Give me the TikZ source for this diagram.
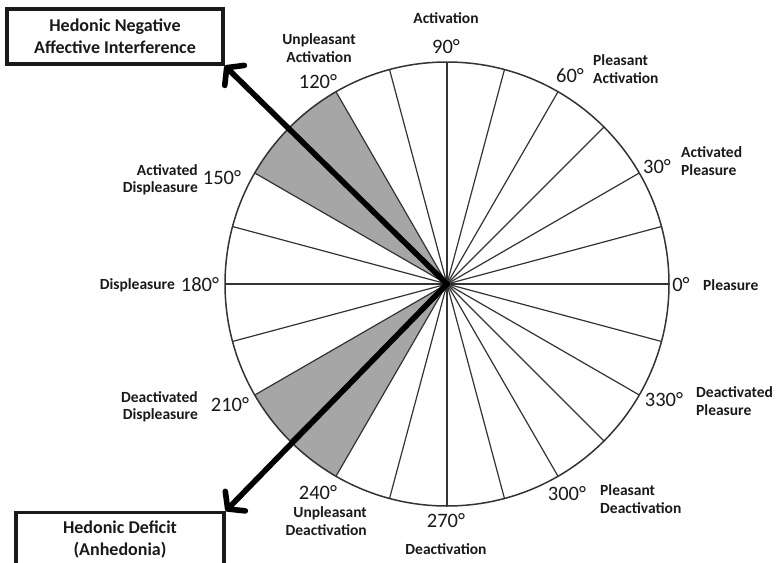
\documentclass[tikz,border=0pt]{standalone}
\usepackage{fontspec}
\setmainfont{Carlito}
\usetikzlibrary{arrows.meta,calc}
\definecolor{ink}{HTML}{1A1A1A}
\definecolor{spoke}{HTML}{333333}
\definecolor{sector}{HTML}{A6A6A6}
\begin{document}
\begin{tikzpicture}[x=1pt,y=-1pt,
  lab/.style={font=\bfseries\fontsize{15.5}{17.5}\selectfont, inner sep=0pt, text=ink},
  deg/.style={font=\fontsize{20.5}{22}\selectfont, inner sep=0pt, text=ink},
  boxnode/.style={draw=ink, line width=3.4pt, fill=white, inner sep=0pt,
    font=\bfseries\fontsize{18}{22}\selectfont, text=ink, align=center},
  bigarrow/.style={line width=5.6pt, draw=black, line cap=round,
    -{Straight Barb[length=11pt,width=28pt,round]}},
  spokeline/.style={draw=spoke, line width=1.2pt}]
\useasboundingbox (0,0) rectangle (776,562);
\fill[white] (0,0) rectangle (776,562);

% wheel centre and radius
\coordinate (c) at (447,284);
\def\R{222pt}

% shaded sectors
\fill[sector] (c) -- ($(c)+(120:\R)$) arc[start angle=120, end angle=150, radius=\R] -- cycle;
\fill[sector] (c) -- ($(c)+(210:\R)$) arc[start angle=210, end angle=240, radius=\R] -- cycle;

% spokes every 15 degrees
\foreach \a in {0,15,...,345}
  \draw[spokeline] (c) -- ($(c)+(\a:\R)$);
\draw[spoke, line width=1.5pt] (c) circle[radius=\R];

% boxes
\node[boxnode, minimum width=216pt, minimum height=55pt] (hnai) at (115,36.5)
  {Hedonic Negative\\Affective Interference};
\node[boxnode, minimum width=208pt, minimum height=72pt, anchor=north] (hd) at (120,511)
  {\rule{0pt}{21pt}Hedonic Deficit\\(Anhedonia)\\[14pt]};

% arrows from the centre
\draw[bigarrow] (c) -- (hnai.south east);
\draw[bigarrow] (c) -- (hd.north east);

% angle labels
\node[deg] (d90)  at (446,47)  {90°};
\node[deg] (d60)  at (570,76)  {60°};
\node[deg] (d30)  at (657,167) {30°};
\node[deg] (d0)   at (681,285) {0°};
\node[deg] (d330) at (664,400) {330°};
\node[deg] (d300) at (567,494) {300°};
\node[deg] (d270) at (446,521) {270°};
\node[deg] (d240) at (318,493) {240°};
\node[deg] (d210) at (230,405) {210°};
\node[deg] (d180) at (200,285) {180°};
\node[deg] (d150) at (222,178) {150°};
\node[deg] (d120) at (318,82)  {120°};

% affect labels
\node[lab] (act)   at (446,18) {Activation};
\node[lab, align=center] (uact) at (319,48) {Unpleasant\\Activation};
\node[lab, align=left, anchor=west] (pact) at (593,69) {Pleasant\\Activation};
\node[lab, align=left, anchor=west] (apl) at (681,161) {Activated\\Pleasure};
\node[lab, anchor=west] (pl) at (703,285) {Pleasure};
\node[lab, align=left, anchor=west] (dpl) at (696,401) {Deactivated\\Pleasure};
\node[lab, align=left, anchor=west] (pdeact) at (600,499) {Pleasant\\Deactivation};
\node[lab] (deact) at (446,549) {Deactivation};
\node[lab, align=right, anchor=east] (udeact) at (367,521) {Unpleasant\\Deactivation};
\node[lab, align=right, anchor=east] (ddis) at (198,407) {Deactivated\\Displeasure};
\node[lab, anchor=east] (dis) at (175,285) {Displeasure};
\node[lab, align=right, anchor=east] (adis) at (198,180) {Activated\\Displeasure};
\end{tikzpicture}
\end{document}
